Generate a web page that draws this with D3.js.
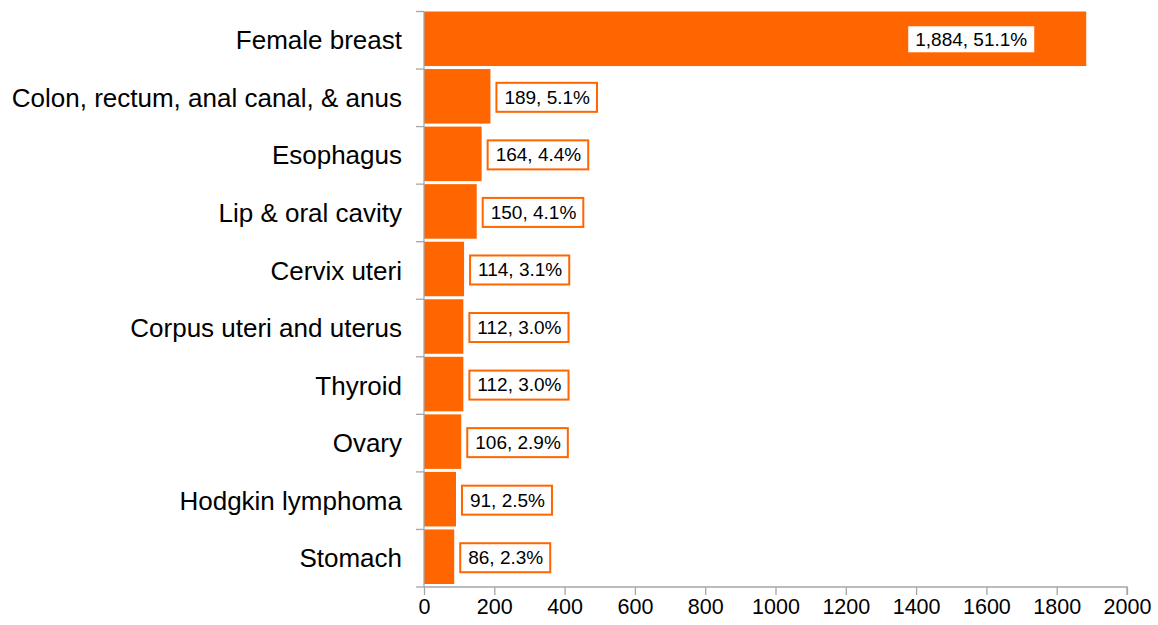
<!DOCTYPE html>
<html>
<head>
<meta charset="utf-8">
<script src="https://cdn.jsdelivr.net/npm/d3@7"></script>
<style>
  body { margin: 0; background: #fff; }
  text { font-family: "Liberation Sans", Arial, sans-serif; fill: #000; }
</style>
</head>
<body>
<svg id="chart"></svg>
<script>
const categories = ["Female breast", "Colon, rectum, anal canal, & anus", "Esophagus", "Lip & oral cavity",
  "Cervix uteri", "Corpus uteri and uterus", "Thyroid", "Ovary", "Hodgkin lymphoma", "Stomach"];
const counts = [1884, 189, 164, 150, 114, 112, 112, 106, 91, 86];
const percents = [51.1, 5.1, 4.4, 4.1, 3.1, 3.0, 3.0, 2.9, 2.5, 2.3];
const xTicks = [0, 200, 400, 600, 800, 1000, 1200, 1400, 1600, 1800, 2000];

const width = 1158, height = 625;
const margin = { top: 11.5, right: 31, bottom: 38, left: 424 };
const orange = "#FF6600", axisGrey = "#A6A6A6";

const rows = categories.map((c, i) => ({ name: c, value: counts[i], pct: percents[i] }));

const svg = d3.select("#chart").attr("width", width).attr("height", height);

const x = d3.scaleLinear().domain([0, 2000]).range([margin.left, width - margin.right]);
const y = d3.scaleBand().domain(categories).range([margin.top, height - margin.bottom]);

// bars
svg.selectAll("rect.bar")
  .data(rows)
  .enter()
  .append("rect")
  .attr("class", "bar")
  .attr("x", x(0))
  .attr("y", d => y(d.name))
  .attr("width", d => x(d.value) - x(0))
  .attr("height", y.bandwidth() - 3)
  .attr("fill", orange);

// y axis
svg.append("line")
  .attr("x1", x(0)).attr("x2", x(0))
  .attr("y1", margin.top).attr("y2", height - margin.bottom)
  .attr("stroke", axisGrey).attr("stroke-width", 1.3);

const bounds = categories.map(c => y(c)).concat([height - margin.bottom]);
svg.selectAll("line.ytick")
  .data(bounds)
  .enter()
  .append("line")
  .attr("x1", x(0) - 8).attr("x2", x(0))
  .attr("y1", d => d).attr("y2", d => d)
  .attr("stroke", axisGrey).attr("stroke-width", 1.3);

svg.selectAll("text.cat")
  .data(categories)
  .enter()
  .append("text")
  .attr("x", 402)
  .attr("y", d => y(d) + y.bandwidth() / 2)
  .attr("dy", "0.35em")
  .attr("text-anchor", "end")
  .style("font-size", "26px")
  .text(d => d);

// x axis
const xAxis = svg.append("g")
  .attr("transform", `translate(0,${height - margin.bottom})`)
  .call(d3.axisBottom(x).tickValues(xTicks).tickSize(8).tickPadding(4).tickFormat(d3.format("d")));
xAxis.selectAll("path, line").attr("stroke", axisGrey).attr("stroke-width", 1.3);
xAxis.select("path").attr("d", `M${x(0)},0H${x(2000)}V8`);
xAxis.selectAll("text").style("font-size", "21.5px").attr("fill", "#000")
  .attr("font-family", "Liberation Sans, Arial, sans-serif");

// value labels
const fmt = d3.format(",");
const labels = svg.selectAll("g.lbl")
  .data(rows)
  .enter()
  .append("g")
  .attr("class", "lbl");

labels.each(function (d, i) {
  const g = d3.select(this);
  const cy = y(d.name) + (y.bandwidth() - 3) / 2 + 0.5;
  const t = g.append("text")
    .attr("y", cy)
    .attr("dy", "0.36em")
    .style("font-size", "19px")
    .text(`${fmt(d.value)}, ${d.pct.toFixed(1)}%`);
  const w = t.node().getComputedTextLength();
  if (i === 0) {
    const right = x(d.value) - 52;
    t.attr("x", right - 7 - w);
    g.insert("rect", "text")
      .attr("x", right - w - 14).attr("y", cy - 13)
      .attr("width", w + 14).attr("height", 26)
      .attr("fill", "#fff");
  } else {
    const left = x(d.value) + 6;
    t.attr("x", left + 8);
    g.insert("rect", "text")
      .attr("x", left).attr("y", cy - 14)
      .attr("width", w + 15).attr("height", 29)
      .attr("fill", "#fff").attr("stroke", orange).attr("stroke-width", 2);
  }
});
</script>
</body>
</html>
